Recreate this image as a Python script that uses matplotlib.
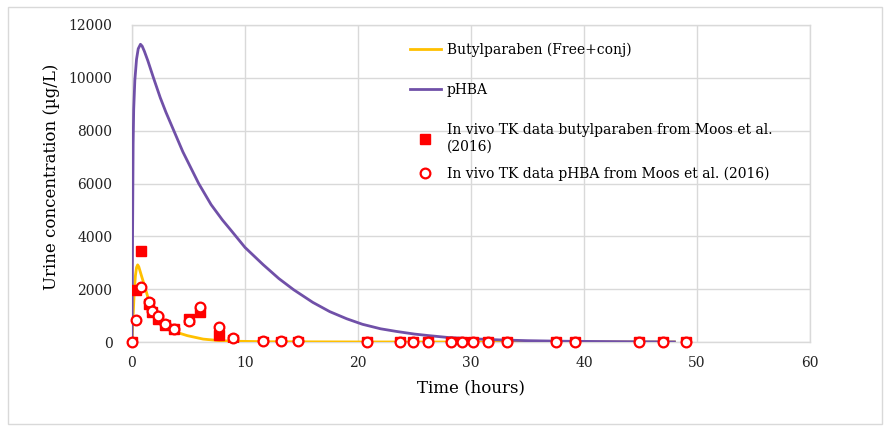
import matplotlib
matplotlib.use("Agg")
import matplotlib.pyplot as plt
from matplotlib.patches import Rectangle

# Model curves
t_bp_model = [0, 0.1, 0.2, 0.3, 0.4, 0.5, 0.6, 0.8, 1.0, 1.2, 1.5, 1.9, 2.5, 3.4, 4.0,
              4.9, 6.3, 7.8, 9, 12, 20, 30, 40, 48]
bp_model = [0, 1000, 1900, 2500, 2820, 2920, 2850, 2560, 2280, 2000, 1550, 1100, 750, 480,
            360, 240, 110, 50, 30, 10, 2, 0, 0, 0]

t_phba_model = [0, 0.05, 0.1, 0.15, 0.25, 0.4, 0.55, 0.75, 0.9, 1.1, 1.4, 1.9, 2.5, 3, 3.7,
                4.5, 5.2, 5.9, 7, 8, 8.7, 10, 11.6, 13, 14.3, 16, 17.5, 19, 20.4, 22, 23.4,
                25, 26.3, 28, 30.2, 32.5, 35, 38, 41, 44, 48]
phba_model = [0, 4000, 7500, 8800, 9900, 10700, 11100, 11270, 11200, 11000, 10650, 10000,
              9250, 8700, 8000, 7200, 6600, 6000, 5200, 4620, 4260, 3580, 2930, 2400, 1980,
              1500, 1150, 880, 670, 500, 400, 300, 240, 170, 120, 80, 50, 30, 20, 12, 5]

# In vivo data (Moos et al. 2016)
t_data = [0, 0.33, 0.82, 1.5, 1.8, 2.3, 2.9, 3.7, 5.05, 6.05, 7.7, 8.9, 11.6, 13.2, 14.7,
          20.8, 23.7, 24.9, 26.2, 28.2, 29.2, 30.2, 31.5, 33.2, 37.5, 39.2, 44.9, 47.0, 49.0]
bp_data = [0, 1950, 3450, 1450, 1150, 870, 640, 480, 880, 1130, 270, 80, 10, 5, 5,
           0, 0, 0, 0, 0, 0, 0, 0, 0, 0, 0, 0, 0, 0]
t_phba_data = [0, 0.35, 0.8, 1.5, 1.8, 2.3, 2.9, 3.7, 5.05, 6.0, 7.7, 8.9, 11.6, 13.2, 14.7,
               20.8, 23.7, 24.9, 26.2, 28.2, 29.2, 30.2, 31.5, 33.2, 37.5, 39.2, 44.9, 47.0, 49.0]
phba_data = [0, 850, 2080, 1500, 1190, 975, 690, 500, 810, 1320, 580, 150, 30, 20, 20,
             15, 10, 10, 10, 10, 10, 10, 10, 10, 10, 10, 10, 10, 10]

x_ticks = [0, 10, 20, 30, 40, 50, 60]
y_ticks = [0, 2000, 4000, 6000, 8000, 10000, 12000]

plt.rcParams['font.family'] = ['DejaVu Serif', 'Liberation Serif']

W, H = 890, 432
fig = plt.figure(figsize=(W / 100, H / 100), dpi=100)
fig.patches.append(Rectangle((8 / W, 1 - 424 / H), 874 / W, 417 / H,
                             transform=fig.transFigure, fill=False,
                             edgecolor='#D9D9D9', linewidth=1.0))
ax = fig.add_axes([132 / W, 1 - 342 / H, 678 / W, 317 / H])

grid_c = '#D9D9D9'
ax.set_xlim(0, 60)
ax.set_ylim(0, 12000)
ax.set_xticks(x_ticks)
ax.set_yticks(y_ticks)
ax.grid(True, color=grid_c, linewidth=1.0)
ax.set_axisbelow(True)
for s in ax.spines.values():
    s.set_color(grid_c)
    s.set_linewidth(1.0)
ax.tick_params(axis='both', length=0, labelsize=10, colors='#222222')
ax.tick_params(axis='y', pad=14)
ax.tick_params(axis='x', pad=10)

l1, = ax.plot(t_bp_model, bp_model, color='#FFC000', lw=2, label='Butylparaben (Free+conj)', zorder=3)
l2, = ax.plot(t_phba_model, phba_model, color='#7050A8', lw=2, label='pHBA', zorder=3)
l3, = ax.plot(t_data, bp_data, ls='none', marker='s', ms=7, color='#FF0000',
              label='In vivo TK data butylparaben from Moos et al.\n(2016)', zorder=4)
l4, = ax.plot(t_phba_data, phba_data, ls='none', marker='o', ms=7, mfc='white', mec='#FF0000',
              mew=1.6, label='In vivo TK data pHBA from Moos et al. (2016)', zorder=5, clip_on=False)

ax.set_xlabel('Time (hours)', fontsize=12)
ax.xaxis.set_label_coords((471 - 132) / 678, -(388 - 342) / 317)
ax.set_ylabel('Urine concentration (µg/L)', fontsize=12)
ax.yaxis.set_label_coords(-(132 - 52) / 678, (342 - 177) / 317)
ax.xaxis.label.set_va('center')
ax.yaxis.label.set_va('center')

leg_kw = dict(frameon=False, fontsize=10, handlelength=2.2, handletextpad=0.45,
              borderpad=0, borderaxespad=0)
leg1 = ax.legend(handles=[l1, l2, l3], loc='center left',
                 bbox_to_anchor=((410 - 132) / 678, (342 - 98) / 317),
                 labelspacing=1.9, **leg_kw)
ax.add_artist(leg1)
leg2 = ax.legend(handles=[l4], loc='center left',
                 bbox_to_anchor=((410 - 132) / 678, (342 - 174) / 317), **leg_kw)

fig.savefig('out.png', dpi=100)
